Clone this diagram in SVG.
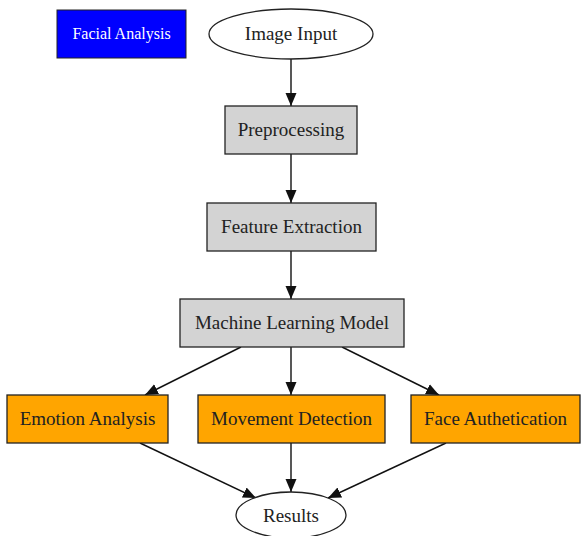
<svg xmlns="http://www.w3.org/2000/svg" width="582" height="536" viewBox="0 0 582 536">
<style>
.lbl{font-family:"Liberation Serif","Times New Roman",serif;font-size:19px;fill:#222;text-anchor:middle}
.grey{fill:#d3d3d3;stroke:#222;stroke-width:1.3}
.orange{fill:#ffa500;stroke:#222;stroke-width:1.3}
.ell{fill:#fff;stroke:#222;stroke-width:1.3}
.edge{stroke:#111;stroke-width:1.4;fill:none;marker-end:url(#ah)}
</style>
<defs>
<marker id="ah" markerWidth="13" markerHeight="12" refX="13" refY="6" orient="auto" markerUnits="userSpaceOnUse">
<path d="M0,0.5 L13,6 L0,11.5 z" fill="#111"/>
</marker>
</defs>
<rect width="582" height="536" fill="#fff"/>
<g id="connectors">
<line class="edge" x1="291" y1="59" x2="291" y2="106"/>
<line class="edge" x1="291" y1="154" x2="291" y2="203"/>
<line class="edge" x1="291" y1="251" x2="291" y2="299"/>
<line class="edge" x1="241" y1="347" x2="145" y2="395"/>
<line class="edge" x1="291" y1="347" x2="291" y2="395"/>
<line class="edge" x1="342" y1="347" x2="439" y2="395"/>
<line class="edge" x1="140" y1="443" x2="256" y2="498"/>
<line class="edge" x1="291" y1="443" x2="291" y2="492"/>
<line class="edge" x1="446" y1="443" x2="328" y2="498"/>
</g>
<g id="facial-analysis">
<rect x="57" y="10" width="129" height="48" fill="#0000ff" stroke="#222" stroke-width="1"/>
<text x="121.5" y="39" font-family="Liberation Serif,'Times New Roman',serif" font-size="16" fill="#fff" text-anchor="middle">Facial Analysis</text>
</g>
<g id="image-input">
<ellipse class="ell" cx="291" cy="34" rx="82" ry="25"/>
<text class="lbl" x="291" y="40">Image Input</text>
</g>
<g id="preprocessing">
<rect class="grey" x="225" y="106" width="132" height="48"/>
<text class="lbl" x="291" y="136">Preprocessing</text>
</g>
<g id="feature-extraction">
<rect class="grey" x="207" y="203" width="169" height="48"/>
<text class="lbl" x="291.5" y="233">Feature Extraction</text>
</g>
<g id="ml-model">
<rect class="grey" x="180" y="299" width="224" height="48"/>
<text class="lbl" x="292" y="329">Machine Learning Model</text>
</g>
<g id="emotion-analysis">
<rect class="orange" x="7" y="395" width="161" height="48"/>
<text class="lbl" x="87.5" y="425">Emotion Analysis</text>
</g>
<g id="movement-detection">
<rect class="orange" x="198" y="395" width="187" height="48"/>
<text class="lbl" x="291.5" y="425">Movement Detection</text>
</g>
<g id="face-authetication">
<rect class="orange" x="411" y="395" width="169" height="48"/>
<text class="lbl" x="495.5" y="425">Face Authetication</text>
</g>
<g id="results">
<ellipse class="ell" cx="291" cy="515" rx="55" ry="23"/>
<text class="lbl" x="291" y="522">Results</text>
</g>
</svg>
